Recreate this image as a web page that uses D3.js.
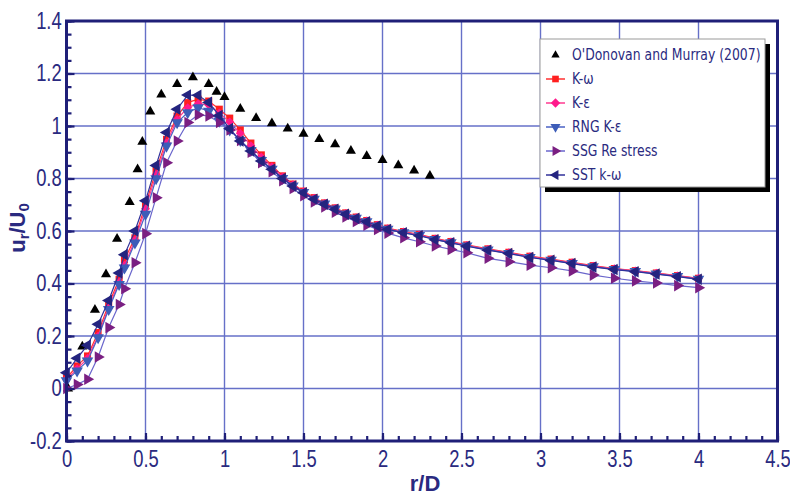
<!DOCTYPE html>
<html><head><meta charset="utf-8">
<script src="https://cdn.jsdelivr.net/npm/d3@7"></script>
<style>body{margin:0;background:#fff}svg{display:block}</style>
</head><body><svg id="c" width="790" height="495"></svg>
<script>
// ---------- data ----------
const xTickValues = [0, 0.5, 1, 1.5, 2, 2.5, 3, 3.5, 4, 4.5];
const yTickValues = [-0.2, 0, 0.2, 0.4, 0.6, 0.8, 1, 1.2, 1.4];

const rExp = [0.01, 0.1, 0.18, 0.25, 0.32, 0.4, 0.45, 0.48, 0.53, 0.6, 0.7, 0.8, 0.9, 0.95, 1.0, 1.1, 1.2, 1.3, 1.4, 1.5, 1.6, 1.7, 1.8, 1.9, 2.0, 2.1, 2.2, 2.3];
const uExp = [0.0, 0.16, 0.30, 0.435, 0.57, 0.71, 0.835, 0.94, 1.055, 1.12, 1.16, 1.185, 1.16, 1.13, 1.11, 1.065, 1.03, 1.01, 0.99, 0.97, 0.95, 0.93, 0.905, 0.885, 0.87, 0.85, 0.83, 0.81];

const rSim = [0, 0.067, 0.133, 0.2, 0.267, 0.333, 0.367, 0.433, 0.5, 0.567, 0.633, 0.7, 0.767, 0.833, 0.9, 0.967, 1.033, 1.1, 1.167, 1.233, 1.3, 1.367, 1.433, 1.5, 1.567, 1.633, 1.7, 1.767, 1.833, 1.9, 1.967, 2.033, 2.133, 2.233, 2.333, 2.433, 2.533, 2.667, 2.8, 2.933, 3.067, 3.2, 3.333, 3.467, 3.6, 3.733, 3.867, 4.0];

const uKomega = [0.04, 0.086, 0.124, 0.213, 0.321, 0.416, 0.49, 0.574, 0.70, 0.83, 0.949, 1.038, 1.089, 1.102, 1.095, 1.064, 1.03, 0.985, 0.935, 0.89, 0.85, 0.81, 0.779, 0.752, 0.727, 0.707, 0.688, 0.669, 0.653, 0.640, 0.624, 0.611, 0.598, 0.587, 0.572, 0.560, 0.547, 0.532, 0.519, 0.504, 0.493, 0.481, 0.468, 0.457, 0.449, 0.440, 0.430, 0.420];
const uKeps = [0.035, 0.075, 0.115, 0.2, 0.31, 0.405, 0.47, 0.565, 0.685, 0.815, 0.935, 1.025, 1.07, 1.085, 1.08, 1.05, 1.015, 0.972, 0.925, 0.882, 0.845, 0.806, 0.776, 0.750, 0.725, 0.705, 0.686, 0.667, 0.651, 0.638, 0.622, 0.609, 0.596, 0.585, 0.570, 0.558, 0.545, 0.530, 0.517, 0.502, 0.491, 0.479, 0.466, 0.456, 0.448, 0.439, 0.429, 0.419];
const uRNG = [0.03, 0.067, 0.105, 0.194, 0.302, 0.397, 0.46, 0.555, 0.664, 0.80, 0.924, 1.013, 1.051, 1.07, 1.057, 1.019, 0.985, 0.945, 0.907, 0.869, 0.836, 0.801, 0.772, 0.747, 0.722, 0.703, 0.684, 0.665, 0.649, 0.636, 0.620, 0.607, 0.594, 0.583, 0.568, 0.556, 0.543, 0.528, 0.515, 0.500, 0.489, 0.477, 0.464, 0.454, 0.446, 0.437, 0.427, 0.417];
const uSSG = [0.0, 0.015, 0.035, 0.12, 0.232, 0.32, 0.38, 0.479, 0.59, 0.727, 0.86, 0.943, 1.013, 1.042, 1.038, 1.013, 0.985, 0.945, 0.90, 0.86, 0.826, 0.792, 0.762, 0.734, 0.711, 0.692, 0.672, 0.653, 0.636, 0.622, 0.606, 0.592, 0.574, 0.559, 0.543, 0.530, 0.517, 0.496, 0.483, 0.470, 0.46, 0.448, 0.432, 0.42, 0.41, 0.402, 0.392, 0.384];
const uSST = [0.06, 0.115, 0.165, 0.245, 0.335, 0.44, 0.51, 0.60, 0.715, 0.85, 0.975, 1.064, 1.118, 1.117, 1.09, 1.04, 0.99, 0.943, 0.905, 0.867, 0.835, 0.80, 0.771, 0.746, 0.721, 0.702, 0.683, 0.664, 0.648, 0.635, 0.619, 0.606, 0.593, 0.582, 0.567, 0.555, 0.542, 0.527, 0.514, 0.499, 0.488, 0.476, 0.463, 0.453, 0.445, 0.436, 0.426, 0.416];

const seriesNames = ["O'Donovan and Murray (2007)", "K-ω", "K-ε", "RNG K-ε", "SSG Re stress", "SST k-ω"];

// ---------- layout ----------
const m = {left: 66.5, right: 777.5, top: 21, bottom: 441};
const x = d3.scaleLinear().domain([0, 4.5]).range([m.left, m.right]);
const y = d3.scaleLinear().domain([-0.2, 1.4]).range([m.bottom, m.top]);
const navy = '#1f1f78';
const textNavy = '#2a2a80';
const fmt = v => String(+v.toFixed(2));

const svg = d3.select('#c');
svg.append('rect').attr('width', 790).attr('height', 495).attr('fill', '#fff');

// grid
const grid = svg.append('g').attr('stroke', '#6670c8').attr('stroke-width', 1.4);
grid.selectAll('.gx').data(xTickValues.filter(v => v > 0 && v < 4.5)).join('line')
  .attr('x1', d => x(d)).attr('x2', d => x(d)).attr('y1', m.top).attr('y2', m.bottom);
grid.selectAll('.gy').data(yTickValues.filter(v => v > -0.2 && v < 1.4)).join('line')
  .attr('y1', d => y(d)).attr('y2', d => y(d)).attr('x1', m.left).attr('x2', m.right);

// marker shapes
const shapes = [
  {type: d3.symbolTriangle, size: 44, rot: 0, fill: '#000', line: null},
  {type: d3.symbolSquare, size: 50, rot: 0, fill: '#ff1f1f', line: '#ff3030'},
  {type: d3.symbolSquare, size: 40, rot: 45, fill: '#ff1a8c', line: '#ff3a90'},
  {type: d3.symbolTriangle, size: 58, rot: 180, fill: '#3d5db8', line: '#4a62c4'},
  {type: d3.symbolTriangle, size: 58, rot: 90, fill: '#7a1f82', line: '#6a66cc'},
  {type: d3.symbolTriangle, size: 58, rot: -90, fill: '#24247f', line: '#30309a'}
];

const simSeries = [uKomega, uKeps, uRNG, uSSG, uSST];
const line = d3.line().x(d => x(d[0])).y(d => y(d[1]));

// experimental
svg.append('g').selectAll('path').data(rExp.map((r, i) => [r, uExp[i]])).join('path')
  .attr('d', d3.symbol(shapes[0].type, shapes[0].size))
  .attr('transform', d => `translate(${x(d[0])},${y(d[1])})`)
  .attr('fill', '#000');

simSeries.forEach((u, k) => {
  const s = shapes[k + 1];
  const pts = rSim.map((r, i) => [r, u[i]]);
  const g = svg.append('g');
  g.append('path').attr('d', line(pts)).attr('fill', 'none').attr('stroke', s.line).attr('stroke-width', 1.2);
  g.selectAll('.mk').data(pts).join('path')
    .attr('d', d3.symbol(s.type, s.size))
    .attr('transform', d => `translate(${x(d[0])},${y(d[1])}) rotate(${s.rot})`)
    .attr('fill', s.fill);
});

// frame
svg.append('rect').attr('x', m.left).attr('y', m.top)
  .attr('width', m.right - m.left).attr('height', m.bottom - m.top)
  .attr('fill', 'none').attr('stroke', navy).attr('stroke-width', 3);

// axes
const fontTick = '"Liberation Sans","Arial",sans-serif';
const minorY = d3.range(-0.2, 1.4001, 0.05).map(v => +v.toFixed(2));
const minorX = d3.range(0, 4.5001, 0.1).map(v => +v.toFixed(2));

const ayMinor = svg.append('g').attr('transform', `translate(${m.left},0)`)
  .call(d3.axisLeft(y).tickValues(minorY).tickSize(-5).tickFormat(''));
const ay = svg.append('g').attr('transform', `translate(${m.left},0)`)
  .call(d3.axisLeft(y).tickValues(yTickValues).tickSizeInner(-8).tickSizeOuter(0).tickPadding(6).tickFormat(fmt));
const axMinor = svg.append('g').attr('transform', `translate(0,${m.bottom})`)
  .call(d3.axisBottom(x).tickValues(minorX).tickSize(-5).tickFormat(''));
const ax = svg.append('g').attr('transform', `translate(0,${m.bottom})`)
  .call(d3.axisBottom(x).tickValues(xTickValues).tickSizeInner(-8).tickSizeOuter(0).tickPadding(10).tickFormat(fmt));

[ayMinor, ay, axMinor, ax].forEach(g => {
  g.select('.domain').remove();
  g.selectAll('line').attr('stroke', navy).attr('stroke-width', 2.2);
  g.selectAll('text').attr('fill', textNavy).attr('font-family', fontTick).attr('font-size', 23)
    .attr('transform', 'scale(0.8,1)');
});

// axis titles
svg.append('text').attr('x', 425).attr('y', 491).attr('text-anchor', 'middle')
  .attr('font-family', '"Liberation Sans",sans-serif').attr('font-weight', 'bold')
  .attr('font-size', 22).attr('fill', textNavy).text('r/D');

const yt = svg.append('text').attr('transform', 'translate(25,228) rotate(-90)').attr('text-anchor', 'middle')
  .attr('font-family', '"Liberation Sans",sans-serif').attr('font-weight', 'bold')
  .attr('font-size', 22).attr('fill', textNavy);
yt.append('tspan').text('u');
yt.append('tspan').attr('font-size', 15).attr('dy', 4).text('r');
yt.append('tspan').attr('dy', -4).text('/U');
yt.append('tspan').attr('font-size', 15).attr('dy', 4).text('0');

// legend
const lg = svg.append('g');
lg.append('rect').attr('x', 545).attr('y', 44).attr('width', 225).attr('height', 148).attr('fill', '#000');
lg.append('rect').attr('x', 540).attr('y', 39).attr('width', 225).attr('height', 148)
  .attr('fill', '#fff').attr('stroke', '#9a9a9a').attr('stroke-width', 1);
seriesNames.forEach((name, i) => {
  const cy = 55 + i * 24;
  const s = shapes[i];
  if (s.line) lg.append('line').attr('x1', 546).attr('x2', 565).attr('y1', cy).attr('y2', cy)
    .attr('stroke', s.line).attr('stroke-width', 1.5);
  lg.append('path').attr('d', d3.symbol(s.type, i === 0 ? 30 : 44))
    .attr('transform', `translate(555.5,${cy}) rotate(${s.rot})`).attr('fill', s.fill);
  lg.append('text').attr('x', 572).attr('y', cy).attr('dy', '0.36em')
    .attr('font-family', '"DejaVu Sans Condensed","DejaVu Sans",sans-serif').attr('font-size', 15)
    .attr('transform', `translate(572,0) scale(0.92,1) translate(-572,0)`)
    .attr('fill', textNavy).text(name);
});
</script></body></html>
